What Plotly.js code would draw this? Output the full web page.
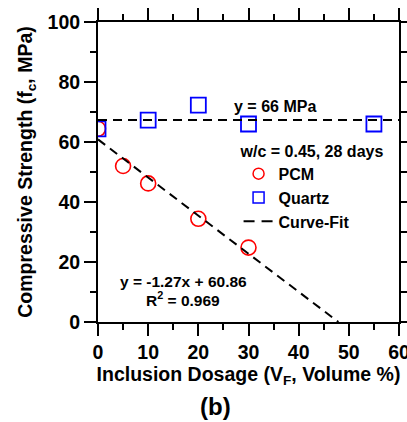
<!DOCTYPE html>
<html><head><meta charset="utf-8">
<script src="https://cdn.plot.ly/plotly-3.0.1.min.js"></script>
<style>html,body{margin:0;padding:0;background:#fff}#c{width:407px;height:422px}</style>
</head><body><div id="c"></div>
<script>
const pcmX = [0, 5, 10, 20, 30];
const pcmY = [64.4, 52, 46.2, 34.4, 24.8];
const quartzX = [0, 10, 20, 30, 55];
const quartzY = [64.4, 67.3, 72.3, 66, 66];
const flatFitX = [0, 60];
const flatFitY = [67.3, 67.3];
const linFitX = [0, 47.92];
const linFitY = [60.86, 0];
const legendNames = ['PCM', 'Quartz', 'Curve-Fit'];

const F = 'Liberation Sans, Arial, Helvetica, sans-serif';
const fnt = (s) => ({family: F, size: s, color: '#000', weight: 'bold'});
const dash = '9px,6px';

const traces = [
  {x: pcmX, y: pcmY, type: 'scatter', mode: 'markers', showlegend: false,
   marker: {symbol: 'circle-open', size: 15, color: '#ff0000', line: {width: 1.6, color: '#ff0000'}}},
  {x: quartzX, y: quartzY, type: 'scatter', mode: 'markers', showlegend: false,
   marker: {symbol: 'square-open', size: 15, color: '#0000ff', line: {width: 1.8, color: '#0000ff'}}},
  {x: linFitX, y: linFitY, type: 'scatter', mode: 'lines', showlegend: false,
   line: {color: '#000', width: 2, dash: dash}},
  {x: flatFitX, y: flatFitY, type: 'scatter', mode: 'lines', showlegend: false,
   line: {color: '#000', width: 2, dash: dash}},
  // legend entries
  {x: [null], y: [null], type: 'scatter', mode: 'markers', name: legendNames[0],
   marker: {symbol: 'circle-open', size: 11, color: '#ff0000', line: {width: 1.5, color: '#ff0000'}}},
  {x: [null], y: [null], type: 'scatter', mode: 'markers', name: legendNames[1],
   marker: {symbol: 'square-open', size: 11, color: '#0000ff', line: {width: 1.5, color: '#0000ff'}}},
  {x: [null], y: [null], type: 'scatter', mode: 'lines', name: legendNames[2],
   line: {color: '#000', width: 2, dash: '11px,7px'}}
];

const axBase = {
  showgrid: false, zeroline: false, showline: true, linecolor: '#000', linewidth: 2,
  mirror: 'ticks', ticks: 'outside', ticklen: 12, tickwidth: 2, tickcolor: '#000',
  tickfont: fnt(19.5), ticklabeloverflow: 'allow'
};

const layout = {
  width: 407, height: 422,
  margin: {l: 98, r: 8, t: 22, b: 100},
  paper_bgcolor: '#fff', plot_bgcolor: '#fff',
  showlegend: true,
  legend: {
    x: 0.467, y: 0.62, xanchor: 'left', yanchor: 'top',
    bgcolor: 'rgba(0,0,0,0)', font: fnt(16),
    title: {text: 'w/c = 0.45, 28 days', font: fnt(16)},
    tracegroupgap: 0
  },
  xaxis: Object.assign({}, axBase, {
    range: [0, 60], dtick: 10, tick0: 0,
    minor: {dtick: 5, ticks: 'outside', ticklen: 6, tickwidth: 2, tickcolor: '#000'},
    title: {text: 'Inclusion Dosage (V<sub>F</sub>, Volume %)', font: fnt(19.5), standoff: 4}
  }),
  yaxis: Object.assign({}, axBase, {
    range: [0, 100], dtick: 20, tick0: 0,
    minor: {dtick: 10, ticks: 'outside', ticklen: 6, tickwidth: 2, tickcolor: '#000'},
    title: {text: 'Compressive Strength (f<sub>c</sub>, MPa)', font: fnt(19.5), standoff: 10}
  }),
  annotations: [
    {x: 35.2, y: 71.7, xref: 'x', yref: 'y', text: 'y = 66 MPa', showarrow: false, font: fnt(16)},
    {x: 17, y: 13.5, xref: 'x', yref: 'y', text: 'y = -1.27x + 60.86', showarrow: false, font: fnt(15.5)},
    {x: 17, y: 7.6, xref: 'x', yref: 'y', text: 'R<sup>2</sup> = 0.969', showarrow: false, font: fnt(15.5)},
    {x: (215 - 98) / 301, y: (322 - 407) / 300, xref: 'paper', yref: 'paper', xanchor: 'center', yanchor: 'middle',
     text: '(b)', showarrow: false, font: fnt(24)}
  ]
};

Plotly.newPlot('c', traces, layout, {displayModeBar: false, staticPlot: true});
</script></body></html>
